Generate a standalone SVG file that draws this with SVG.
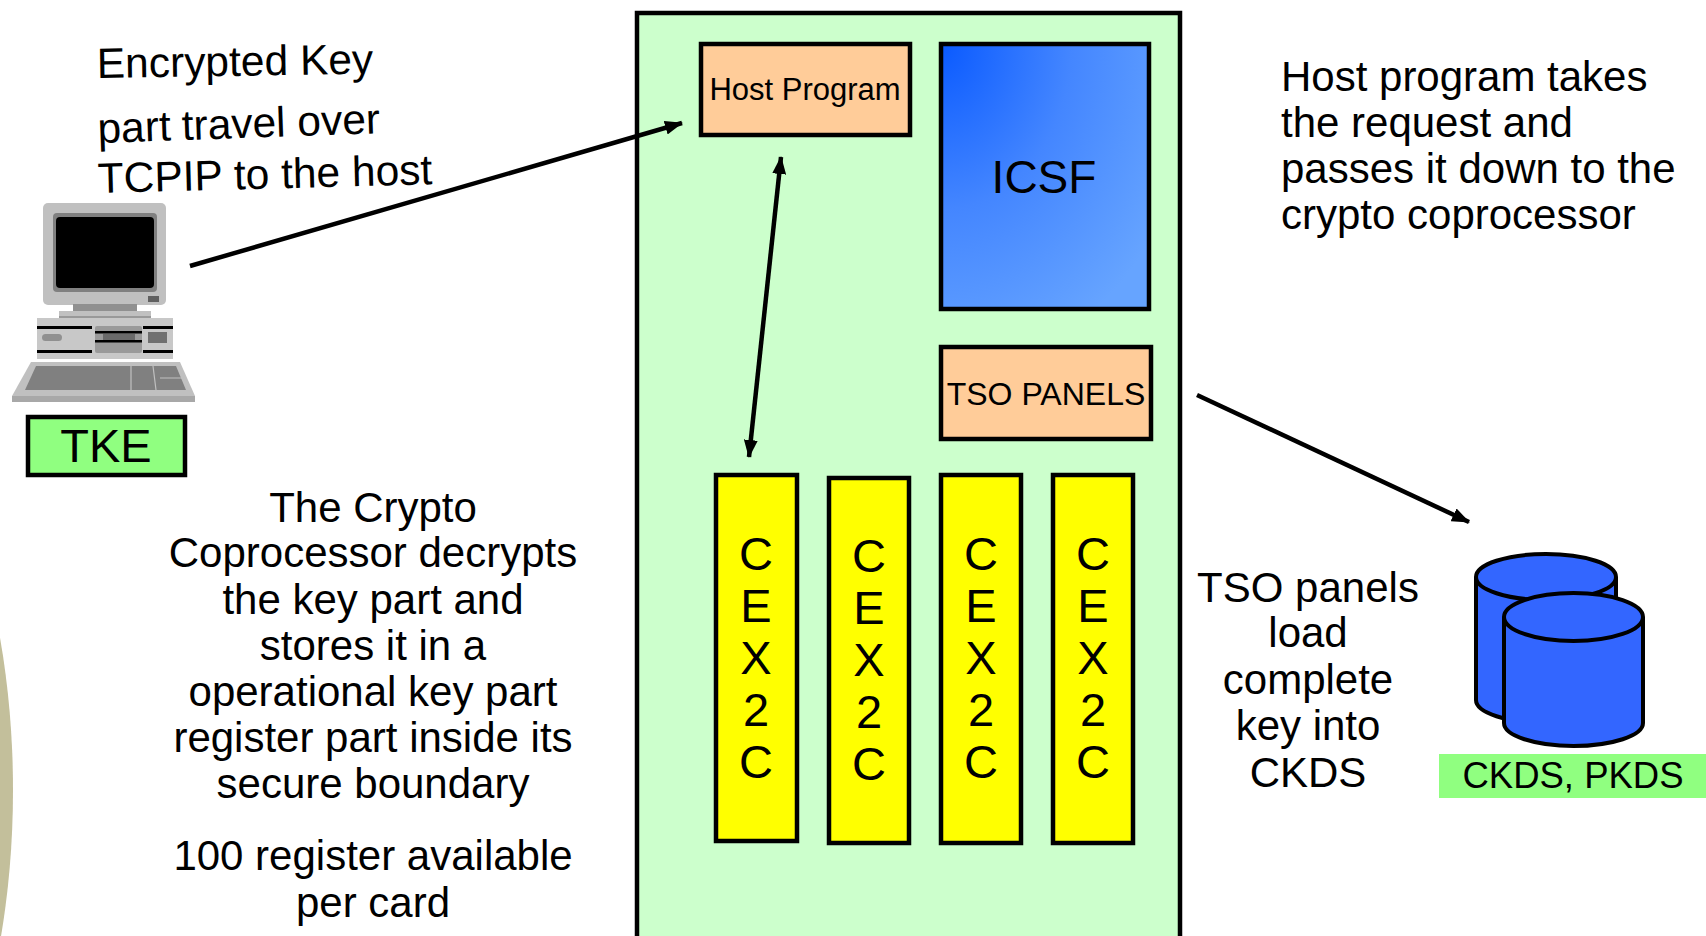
<svg xmlns="http://www.w3.org/2000/svg" width="1706" height="936" viewBox="0 0 1706 936">
  <style>
    .t { font-family: "Liberation Sans", Arial, sans-serif; fill: #000; }
    .box { stroke: #000; stroke-width: 4.5; }
    .peach { fill: #ffcc99; }
    .card { fill: #ffff00; }
    .tag { fill: #90ff80; }
    .wire { stroke: #000; stroke-width: 4.5; fill: none; }
    .can { fill: #3366ff; stroke: #000; stroke-width: 4; }
  </style>
  <defs>
    <marker id="head" viewBox="0 0 18 14" markerUnits="userSpaceOnUse" markerWidth="18" markerHeight="14" refX="17" refY="7" orient="auto-start-reverse">
      <path d="M0,0 L18,7 L0,14 z" fill="#000"/>
    </marker>
    <radialGradient id="icsfFill" cx="0" cy="0" r="1.25" fx="0" fy="0">
      <stop offset="0" stop-color="#0a5aff"/>
      <stop offset="0.5" stop-color="#4486ff"/>
      <stop offset="1" stop-color="#66a4ff"/>
    </radialGradient>
  </defs>

  <rect width="1706" height="936" fill="#fff"/>

  <!-- decorative arc at the left margin -->
  <ellipse cx="-160" cy="790" rx="173" ry="400" fill="#c3bf9b"/>

  <!-- mainframe host container -->
  <g id="host">
    <rect x="637" y="13" width="543" height="940" fill="#ccffcc" stroke="#000" stroke-width="4.5"/>
  </g>

  <g id="host-program">
    <rect class="box peach" x="701" y="44" width="209" height="91"/>
    <text class="t" x="805" y="100" font-size="31" text-anchor="middle">Host Program</text>
  </g>

  <g id="icsf">
    <rect class="box" x="941" y="44" width="208" height="265" fill="url(#icsfFill)"/>
    <text class="t" x="1044" y="193" font-size="46" text-anchor="middle">ICSF</text>
  </g>

  <g id="tso-panels">
    <rect class="box peach" x="941" y="347" width="210" height="92"/>
    <text class="t" x="1046" y="405" font-size="32" text-anchor="middle">TSO PANELS</text>
  </g>

  <g id="cex2c-1">
    <rect class="box card" x="716" y="475" width="81" height="366"/>
    <text class="t" font-size="47" text-anchor="middle"><tspan x="756" y="570">C</tspan><tspan x="756" y="622">E</tspan><tspan x="756" y="674">X</tspan><tspan x="756" y="726">2</tspan><tspan x="756" y="778">C</tspan></text>
  </g>
  <g id="cex2c-2">
    <rect class="box card" x="829" y="478" width="80" height="365"/>
    <text class="t" font-size="47" text-anchor="middle"><tspan x="869" y="572">C</tspan><tspan x="869" y="624">E</tspan><tspan x="869" y="676">X</tspan><tspan x="869" y="728">2</tspan><tspan x="869" y="780">C</tspan></text>
  </g>
  <g id="cex2c-3">
    <rect class="box card" x="941" y="475" width="80" height="368"/>
    <text class="t" font-size="47" text-anchor="middle"><tspan x="981" y="570">C</tspan><tspan x="981" y="622">E</tspan><tspan x="981" y="674">X</tspan><tspan x="981" y="726">2</tspan><tspan x="981" y="778">C</tspan></text>
  </g>
  <g id="cex2c-4">
    <rect class="box card" x="1053" y="475" width="80" height="368"/>
    <text class="t" font-size="47" text-anchor="middle"><tspan x="1093" y="570">C</tspan><tspan x="1093" y="622">E</tspan><tspan x="1093" y="674">X</tspan><tspan x="1093" y="726">2</tspan><tspan x="1093" y="778">C</tspan></text>
  </g>

  <!-- TKE workstation -->
  <g id="tke">
    <!-- monitor -->
    <rect x="43" y="203" width="123" height="102" rx="5" fill="#c0c0c0"/>
    <rect x="53" y="213" width="104" height="79" rx="4" fill="#808080"/>
    <rect x="56" y="217" width="98" height="71" rx="4" fill="#000"/>
    <rect x="148" y="296" width="11" height="6" fill="#606060"/>
    <rect x="73" y="304" width="64" height="7" fill="#909090"/>
    <rect x="59" y="311" width="92" height="7" fill="#c0c0c0"/>
    <rect x="59" y="316" width="92" height="2" fill="#999"/>
    <!-- system unit -->
    <rect x="37" y="318" width="136" height="41" fill="#c8c8c8"/>
    <rect x="37" y="326" width="55" height="3" fill="#000"/>
    <rect x="143" y="326" width="30" height="3" fill="#000"/>
    <rect x="37" y="350" width="55" height="3" fill="#000"/>
    <rect x="143" y="350" width="30" height="3" fill="#000"/>
    <rect x="42" y="334" width="20" height="7" rx="3.5" fill="#909090"/>
    <rect x="95" y="326" width="47" height="27" rx="2" fill="#9a9a9a"/>
    <rect x="95" y="331" width="47" height="2.5" fill="#000"/>
    <rect x="103" y="334" width="32" height="6" fill="#6a6a6a"/>
    <rect x="95" y="340" width="47" height="2.5" fill="#000"/>
    <rect x="148" y="332" width="19" height="11" fill="#707070"/>
    <!-- keyboard -->
    <path d="M31,362 L180,362 L195,396 L195,402 L12,402 L12,396 Z" fill="#c0c0c0"/>
    <path d="M12,396 L195,396 L195,402 L12,402 Z" fill="#a8a8a8"/>
    <path d="M36,366 L176,366 L186,390 L25,390 Z" fill="#808080"/>
    <path d="M131,366 L131,390 M153,366 L156,390 M160,378 L186,378" stroke="#c0c0c0" stroke-width="1.2" fill="none"/>
    <!-- label -->
    <rect class="tag" x="28" y="417" width="157" height="58" stroke="#000" stroke-width="4.5"/>
    <text class="t" x="106" y="462" font-size="47" text-anchor="middle">TKE</text>
  </g>

  <!-- key data sets -->
  <g id="ckds-pkds">
    <path class="can" d="M1476,577 L1476,700 A70,23 0 0 0 1616,700 L1616,577"/>
    <ellipse class="can" cx="1546" cy="577" rx="70" ry="23"/>
    <path class="can" d="M1504,617 L1504,723 A69.5,23 0 0 0 1643,723 L1643,617"/>
    <ellipse class="can" cx="1573.5" cy="617" rx="69.5" ry="24"/>
    <rect class="tag" x="1439" y="754" width="267" height="44"/>
    <text class="t" x="1573" y="788" font-size="36.5" text-anchor="middle">CKDS, PKDS</text>
  </g>

  <!-- connectors -->
  <g id="connectors">
    <line class="wire" x1="190" y1="266" x2="682" y2="123" marker-end="url(#head)"/>
    <line class="wire" x1="781" y1="157" x2="749" y2="457" marker-start="url(#head)" marker-end="url(#head)"/>
    <line class="wire" x1="1197" y1="395" x2="1469" y2="522" marker-end="url(#head)"/>
  </g>

  <!-- annotations -->
  <g id="note-transfer" class="t" font-size="42.5">
    <text x="97" y="78" transform="rotate(-0.9 97 78)">Encrypted Key</text>
    <text x="98" y="143" transform="rotate(-2 98 143)">part<tspan dx="11">travel over</tspan></text>
    <text x="98" y="193" transform="rotate(-1.5 98 193)">TCPIP to the host</text>
  </g>

  <g id="note-host" class="t" font-size="42">
    <text x="1281" y="90.5">Host program takes</text>
    <text x="1281" y="136.5">the request and</text>
    <text x="1281" y="182.5">passes it down to the</text>
    <text x="1281" y="228.5">crypto coprocessor</text>
  </g>

  <g id="note-coprocessor" class="t" font-size="42" text-anchor="middle">
    <text x="373" y="522">The Crypto</text>
    <text x="373" y="567">Coprocessor decrypts</text>
    <text x="373" y="614">the key part and</text>
    <text x="373" y="660">stores it in a</text>
    <text x="373" y="706">operational key part</text>
    <text x="373" y="752">register part inside its</text>
    <text x="373" y="798">secure boundary</text>
    <text x="373" y="870">100 register available</text>
    <text x="373" y="917">per card</text>
  </g>

  <g id="note-tso" class="t" font-size="42" text-anchor="middle">
    <text x="1308" y="602">TSO panels</text>
    <text x="1308" y="647">load</text>
    <text x="1308" y="694">complete</text>
    <text x="1308" y="740">key into</text>
    <text x="1308" y="787">CKDS</text>
  </g>
</svg>
